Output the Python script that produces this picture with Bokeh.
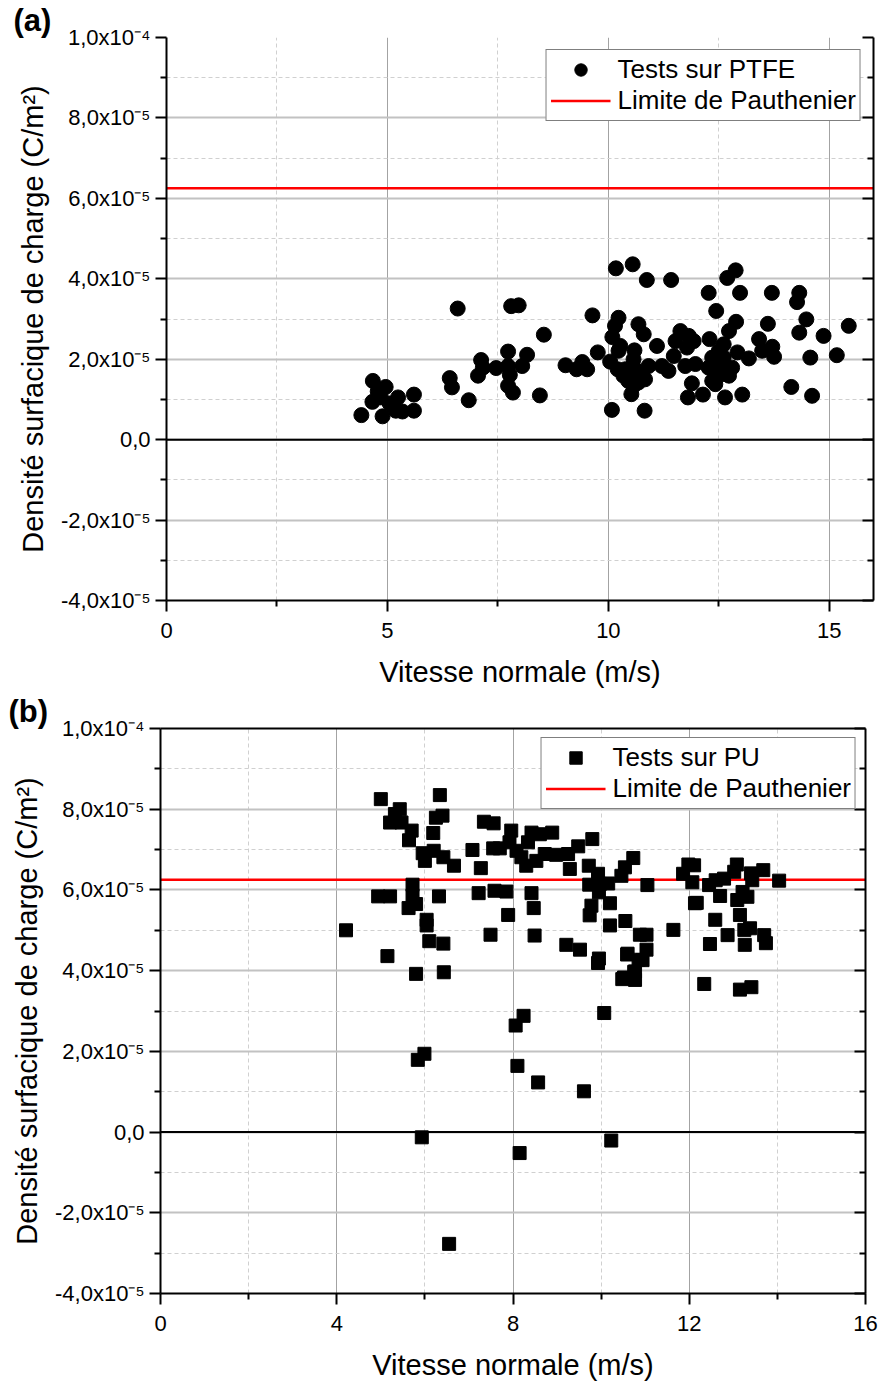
from bokeh.plotting import figure
from bokeh.models import (ColumnDataSource, Range1d, FixedTicker, LinearAxis, Span,
                          Legend, LegendItem)
from bokeh.layouts import column, row
from bokeh.embed import file_html
from bokeh.resources import INLINE

FONT = "Liberation Sans"

# ---------------- data (charge density in units of 1e-5 C/m2) ----------------
ptfe_speed = [4.41, 4.67, 4.96, 4.66, 4.85, 4.89, 4.78, 5.05, 5.24, 5.19, 5.34, 5.60, 5.60,
              6.41, 6.46, 6.59, 6.84, 7.12, 7.05, 7.16, 7.46, 7.73, 7.73, 7.77, 7.73, 7.84,
              7.80, 7.97, 8.16, 8.05, 8.45, 8.54, 9.03, 9.28, 9.41, 9.52, 9.64, 9.76, 10.04,
              10.08, 10.17, 10.55, 10.87, 11.42, 10.23, 10.15, 10.09, 10.27, 10.23, 10.59,
              10.57, 10.68, 10.80, 10.21, 10.34, 10.45, 10.57, 10.68, 10.83, 10.52, 10.82,
              10.91, 11.10, 11.21, 11.36, 11.48, 11.52, 11.63, 11.82, 11.93, 11.78, 11.74,
              11.97, 11.89, 11.80, 12.14, 12.27, 12.44, 12.29, 12.35, 12.39, 12.35, 12.42,
              12.58, 12.73, 12.64, 12.50, 12.61, 12.73, 12.89, 12.69, 12.88, 12.98, 12.92,
              13.18, 13.03, 13.41, 13.48, 13.61, 13.71, 13.75, 13.70, 14.14, 14.32, 14.27,
              14.32, 14.48, 14.57, 14.61, 14.87, 15.17, 15.44, 12.50, 12.61, 12.27, 12.80,
              10.38, 10.61, 10.76]
ptfe_charge = [0.61, 1.46, 1.31, 0.94, 1.05, 0.58, 1.20, 0.90, 1.05, 0.72, 0.70, 1.12, 0.72,
               1.53, 1.30, 3.26, 0.98, 1.98, 1.59, 1.79, 1.78, 2.19, 1.83, 1.61, 1.34, 1.17,
               3.32, 3.34, 2.11, 1.83, 1.10, 2.61, 1.85, 1.75, 1.93, 1.75, 3.09, 2.17, 1.94,
               0.74, 4.26, 4.36, 3.97, 3.97, 3.03, 2.83, 2.55, 2.33, 2.21, 2.22,
               2.00, 2.87, 2.62, 1.75, 1.59, 1.46, 1.34, 1.42, 1.50, 1.13, 0.72,
               1.83, 2.33, 1.83, 1.71, 2.08, 2.45, 2.70, 2.58, 2.45, 2.29, 1.83,
               1.88, 1.40, 1.05, 1.12, 3.65, 3.20, 2.50, 2.04, 1.83, 1.46, 1.38,
               1.63, 1.59, 1.05, 2.21, 2.37, 2.70, 2.93, 4.02, 4.21, 3.65, 2.17,
               2.02, 1.12, 2.50, 2.21, 2.88, 2.31, 2.06, 3.65, 1.31, 3.65, 3.42,
               2.66, 2.99, 2.04, 1.09, 2.58, 2.10, 2.83, 1.88, 2.04, 1.79, 1.79,
               1.75, 1.75, 1.55]

pu_speed = [4.21, 5.00, 6.34, 5.43, 5.32, 5.21, 5.47, 5.70, 5.64, 6.25, 6.40, 6.19, 5.95,
            6.00, 6.20, 6.42, 6.66, 5.72, 5.72, 5.80, 5.63, 4.94, 5.21, 6.32, 6.04, 6.04,
            6.10, 6.42, 5.15, 5.80, 6.43, 7.08, 7.27, 7.34, 7.56, 7.55, 7.70, 7.22, 7.58,
            7.85, 7.89, 7.49, 7.96, 7.92, 8.42, 8.61, 8.89, 8.34, 8.08, 8.19, 8.30, 8.53,
            8.72, 8.98, 9.25, 9.48, 9.80, 9.29, 9.72, 9.93, 9.73, 9.97, 10.16, 9.95, 10.54,
            10.73, 10.46, 11.05, 8.42, 8.47, 9.78, 9.74, 10.20, 10.20, 10.55, 8.49, 9.21,
            9.52, 9.93, 10.88, 11.03, 11.03, 10.59, 10.94, 11.64, 10.75, 10.52, 11.98,
            11.86, 12.07, 12.13, 12.11, 12.45, 12.60, 12.79, 13.02, 13.08, 13.40, 13.43,
            13.68, 14.04, 12.17, 12.70, 13.09, 13.32, 13.21, 13.15, 12.59, 12.87, 12.47,
            13.26, 13.38, 13.70, 13.74, 13.25, 12.34, 13.15, 13.41, 8.24, 8.06, 5.84, 5.99,
            8.10, 8.57, 9.61, 10.07, 5.93, 8.15, 10.23, 6.55, 9.95, 10.48, 10.77, 10.77,
            10.60, 10.85]
pu_charge = [5.00, 8.25, 8.35, 8.00, 7.88, 7.67, 7.67, 7.47, 7.23, 7.79, 7.84, 7.41, 6.91,
             6.72, 6.97, 6.81, 6.60, 6.13, 5.86, 5.65, 5.55, 5.84, 5.84, 5.84, 5.26, 5.12,
             4.73, 4.67, 4.36, 3.92, 3.96, 6.99, 6.54, 7.69, 7.65, 7.03, 7.03, 5.92, 5.98,
             5.96, 5.38, 4.89, 7.47, 7.18, 7.42, 7.38, 7.42, 7.18, 6.97, 6.81, 6.60, 6.72,
             6.89, 6.87, 6.89, 7.08, 7.26, 6.52, 6.60, 6.40, 6.13, 6.15, 6.16, 5.94, 6.56,
             6.79, 6.35, 6.12, 5.92, 5.55, 5.61, 5.37, 5.67, 5.12, 5.23, 4.87, 4.64,
             4.52, 4.19, 4.89, 4.89, 4.52, 4.40, 4.26, 5.01, 3.97, 3.83, 6.63,
             6.40, 6.19, 5.67, 6.61, 6.12, 6.24, 6.28, 6.45, 6.63, 6.41, 6.24,
             6.49, 6.23, 5.68, 5.85, 5.75, 5.83, 5.95, 5.38, 5.26, 4.88, 4.66,
             4.64, 5.05, 4.88, 4.68, 5.01, 3.67, 3.53, 3.59, 2.88, 2.64, 1.79, 1.94,
             1.64, 1.23, 1.01, 2.95, -0.13, -0.52, -0.21, -2.77, 4.30, 3.79, 3.77, 3.98,
             4.42, 4.27]

SCALE = 1e-5
PAUTHENIER_LIMIT = 6.25e-5
X_START, X_END = 0, 16
Y_START, Y_END = -4e-5, 1e-4

Y_TICKS = [-4e-5, -2e-5, 0.0, 2e-5, 4e-5, 6e-5, 8e-5, 1e-4]
Y_TICK_LABELS = ["-4,0x10\u207b\u2075", "-2,0x10\u207b\u2075", "0,0", "2,0x10\u207b\u2075",
                 "4,0x10\u207b\u2075", "6,0x10\u207b\u2075", "8,0x10\u207b\u2075", "1,0x10\u207b\u2074"]
Y_MINOR = [-3e-5, -1e-5, 1e-5, 3e-5, 5e-5, 7e-5, 9e-5]

XA_TICKS = [0, 5, 10, 15]
XA_MINOR = [2.5, 7.5, 12.5]
XB_TICKS = [0, 4, 8, 12, 16]
XB_MINOR = [2, 6, 10, 14]

X_LABEL = "Vitesse normale (m/s)"
Y_LABEL = "Densit\u00e9 surfacique de charge (C/m\u00b2)"


def style_axis(ax, tick_size="22px"):
    ax.axis_line_color = "black"
    ax.axis_line_width = 2
    ax.major_tick_line_color = "black"
    ax.major_tick_line_width = 2
    ax.minor_tick_line_color = "black"
    ax.minor_tick_line_width = 2
    ax.major_label_text_font = FONT
    ax.major_label_text_font_size = tick_size
    ax.major_label_text_color = "black"
    ax.axis_label_text_font = FONT
    ax.axis_label_text_font_size = "29px"
    ax.axis_label_text_font_style = "normal"
    ax.axis_label_text_color = "black"


def silent_axis(ax):
    style_axis(ax, tick_size="1px")
    ax.major_label_text_color = None
    ax.major_label_standoff = 0


def build(xs, ys, marker, msize, series_label, x_ticks, x_minor, w, h,
          bl, bt, br, bb, letter, letter_offset, legend_margin, top_border, ylab_standoff):
    p = figure(width=w, height=h,
               x_range=Range1d(X_START, X_END), y_range=Range1d(Y_START, Y_END),
               output_backend="svg", toolbar_location=None,
               min_border_left=bl, min_border_top=bt, min_border_right=br,
               min_border_bottom=bb)
    p.outline_line_color = None
    p.background_fill_color = "white"
    p.border_fill_color = "white"

    p.title.text = letter
    p.title.align = "left"
    p.title.offset = letter_offset
    p.title.text_font = FONT
    p.title.text_font_size = "31px"
    p.title.text_font_style = "bold"
    p.title.text_color = "black"
    p.title.standoff = 0

    xt = FixedTicker(ticks=x_ticks, minor_ticks=x_minor)
    yt = FixedTicker(ticks=Y_TICKS, minor_ticks=Y_MINOR)
    p.xaxis.ticker = xt
    p.yaxis.ticker = yt
    p.yaxis.major_label_overrides = dict(zip(Y_TICKS, Y_TICK_LABELS))
    style_axis(p.xaxis[0])
    style_axis(p.yaxis[0])
    for ax in (p.xaxis[0], p.yaxis[0]):
        ax.major_tick_out = 11
        ax.major_tick_in = 0
        ax.minor_tick_out = 6
        ax.minor_tick_in = 0
    p.xaxis.axis_label = X_LABEL
    p.yaxis.axis_label = Y_LABEL
    p.xaxis.major_label_standoff = 11
    p.xaxis.axis_label_standoff = 15
    p.yaxis.major_label_standoff = 5
    p.yaxis.axis_label_standoff = ylab_standoff

    right = LinearAxis(ticker=FixedTicker(ticks=Y_TICKS, minor_ticks=Y_MINOR))
    silent_axis(right)
    right.major_tick_in = 11
    right.major_tick_out = 0
    right.minor_tick_in = 6
    right.minor_tick_out = 0
    p.add_layout(right, "right")

    if top_border:
        top = LinearAxis(ticker=FixedTicker(ticks=x_ticks, minor_ticks=x_minor))
        silent_axis(top)
        top.major_tick_in = 0
        top.major_tick_out = 0
        top.minor_tick_in = 0
        top.minor_tick_out = 0
        p.add_layout(top, "above")

    p.xgrid.grid_line_color = "#a3a3a3"
    p.xgrid.grid_line_width = 1
    p.xgrid.minor_grid_line_color = "#d0d0d0"
    p.xgrid.minor_grid_line_dash = "4 3"
    p.ygrid.grid_line_color = "#c2c2c2"
    p.ygrid.grid_line_width = 2
    p.ygrid.minor_grid_line_color = "#d0d0d0"
    p.ygrid.minor_grid_line_dash = "4 3"

    p.add_layout(Span(location=0.0, dimension="width", line_color="black", line_width=2))

    limit = p.line(x=[X_START, X_END], y=[PAUTHENIER_LIMIT, PAUTHENIER_LIMIT],
                   line_color="#ff0000", line_width=2.5)

    src = ColumnDataSource(dict(x=xs, y=[v * SCALE for v in ys]))
    pts = p.scatter("x", "y", source=src, marker=marker, size=msize,
                    fill_color="black", line_color="black", line_width=1)

    legend = Legend(items=[LegendItem(label=series_label, renderers=[pts]),
                           LegendItem(label="Limite de Pauthenier", renderers=[limit])],
                    location="top_right", margin=legend_margin,
                    border_line_color="black", border_line_width=1,
                    background_fill_color="white", background_fill_alpha=1,
                    label_text_font=FONT, label_text_font_size="26px",
                    label_text_color="black", glyph_width=60, glyph_height=31,
                    label_height=31, label_standoff=7, padding=4, spacing=0)
    p.add_layout(legend)
    return p


pa = build(ptfe_speed, ptfe_charge, "circle", 15, "Tests sur PTFE", XA_TICKS, XA_MINOR,
           880, 690, 166, 36, 7, 90, "(a)", -153, 12, False, 9)
pb = build(pu_speed, pu_charge, "square", 13, "Tests sur PU", XB_TICKS, XB_MINOR,
           880, 693, 160, 38, 15, 90, "(b)", -152, 9, True, 9)

layout = column(row(pa), row(pb), spacing=0)
open("out.html", "w").write(file_html(layout, INLINE))
